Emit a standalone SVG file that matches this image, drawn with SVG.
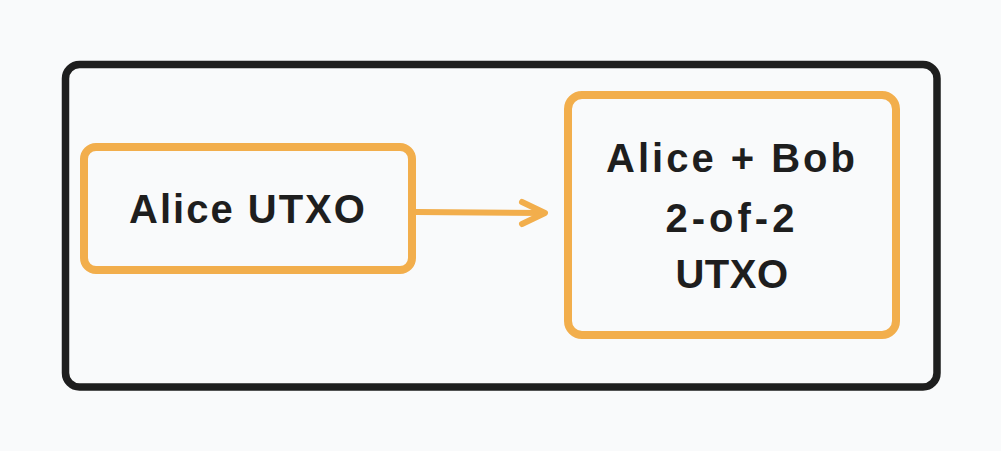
<svg xmlns="http://www.w3.org/2000/svg" width="1001" height="451" viewBox="0 0 1001 451">
<style>
.box{fill:none;stroke:#f2ae4c;stroke-width:8;stroke-linejoin:round}
.frame{fill:none;stroke:#1e1e1e;stroke-width:7.5}
.lbl{font-family:"Liberation Sans",Arial,sans-serif;font-weight:bold;font-size:40px;fill:#1e1e1e;text-anchor:middle}
.conn{fill:none;stroke:#f2ae4c;stroke-width:6;stroke-linecap:round;stroke-linejoin:round}
</style>
<rect x="0" y="0" width="1001" height="451" fill="#f9fafb"/>
<g id="frame">
<rect class="frame" x="65.5" y="64.5" width="871.5" height="322.5" rx="14"/>
</g>
<g id="alice-utxo">
<rect class="box" x="84" y="147" width="328" height="123" rx="12"/>
<text class="lbl" x="248" y="223" letter-spacing="2">Alice UTXO</text>
</g>
<g id="multisig-utxo">
<rect class="box" x="568" y="95" width="328" height="240" rx="14"/>
<text class="lbl" x="732" y="172" letter-spacing="3">Alice + Bob</text>
<text class="lbl" x="732" y="232" letter-spacing="4">2-of-2</text>
<text class="lbl" x="732" y="288" letter-spacing="0.5">UTXO</text>
</g>
<g id="connectors">
<path class="conn" d="M416 212 L543 213"/>
<path class="conn" d="M522 202 L545 213 L522 224"/>
</g>
</svg>
